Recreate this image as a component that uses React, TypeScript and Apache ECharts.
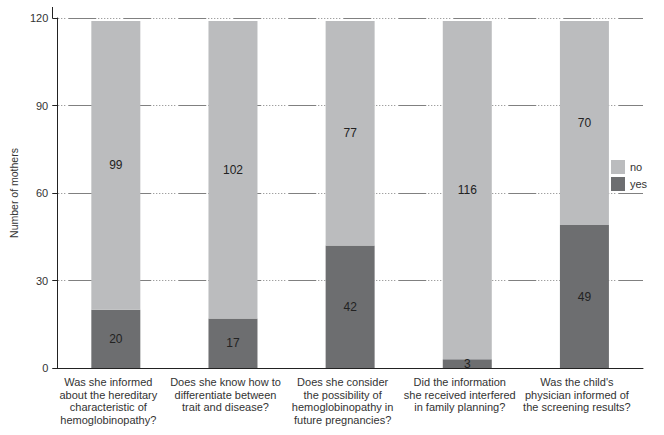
import React, { useEffect, useRef } from "react";
import * as echarts from "echarts";

const categories = [
  "Was she informed\nabout the hereditary\ncharacteristic of\nhemoglobinopathy?",
  "Does she know how to\ndifferentiate between\ntrait and disease?",
  "Does she consider\nthe possibility of\nhemoglobinopathy in\nfuture pregnancies?",
  "Did the information\nshe received interfered\nin family planning?",
  "Was the child's\nphysician informed of\nthe screening results?",
];
const yesValues = [20, 17, 42, 3, 49];
const noValues = [99, 102, 77, 116, 70];
const yTicks = [0, 30, 60, 90, 120];

const FONT = "'Liberation Sans', Arial, Helvetica, sans-serif";

export default function App() {
  const ref = useRef<HTMLDivElement>(null);
  useEffect(() => {
    if (!ref.current) return;
    const chart = echarts.init(ref.current, undefined, { renderer: "svg" });
    const dash: number[] = [28];
    for (let i = 0; i < 8; i++) dash.push(2, 1);
    dash.push(3);
    chart.setOption({
      animation: false,
      textStyle: { fontFamily: FONT },
      grid: { left: 52, right: 21, top: 18, bottom: 67, containLabel: false },
      legend: {
        orient: "vertical",
        left: 606,
        top: 155,
        itemWidth: 14,
        itemHeight: 14,
        itemGap: 3,
        icon: "rect",
        data: ["no", "yes"],
        textStyle: { fontSize: 11, color: "#333", fontFamily: FONT },
      },
      xAxis: {
        type: "category",
        data: categories,
        axisLine: { lineStyle: { color: "#222", width: 1 } },
        axisTick: { length: 5, lineStyle: { color: "#222" } },
        axisLabel: {
          fontSize: 11,
          lineHeight: 12.5,
          color: "#333",
          interval: 0,
          margin: 8,
          padding: [0, 15, 0, 0],
          fontFamily: FONT,
        },
      },
      yAxis: {
        type: "value",
        min: yTicks[0],
        max: yTicks[yTicks.length - 1],
        interval: 30,
        name: "Number of mothers",
        nameLocation: "middle",
        nameGap: 38,
        nameTextStyle: { fontSize: 10.5, color: "#333", fontFamily: FONT },
        axisLine: { show: true, lineStyle: { color: "#222", width: 1 } },
        axisTick: { show: true, length: 5, lineStyle: { color: "#222" } },
        axisLabel: { fontSize: 11, color: "#333", margin: 9, fontFamily: FONT },
        splitLine: {
          show: true,
          lineStyle: { color: "#808080", width: 1, type: dash, dashOffset: 44 },
        },
      },
      series: [
        {
          name: "yes",
          type: "bar",
          stack: "total",
          data: yesValues,
          barWidth: 49,
          itemStyle: { color: "#6d6e70" },
          label: { show: true, position: "inside", fontSize: 12, color: "#222", fontFamily: FONT },
        },
        {
          name: "no",
          type: "bar",
          stack: "total",
          data: noValues,
          barWidth: 49,
          itemStyle: { color: "#bbbcbe" },
          label: { show: true, position: "inside", fontSize: 12, color: "#222", fontFamily: FONT },
        },
      ],
      graphic: [
        {
          type: "line",
          shape: { x1: 52.5, y1: 7, x2: 52.5, y2: 18 },
          style: { stroke: "#222", lineWidth: 1 },
        },
      ],
    });
    return () => chart.dispose();
  }, []);
  return <div ref={ref} style={{ width: 664, height: 435, position: "absolute", left: 0, top: 0 }} />;
}
